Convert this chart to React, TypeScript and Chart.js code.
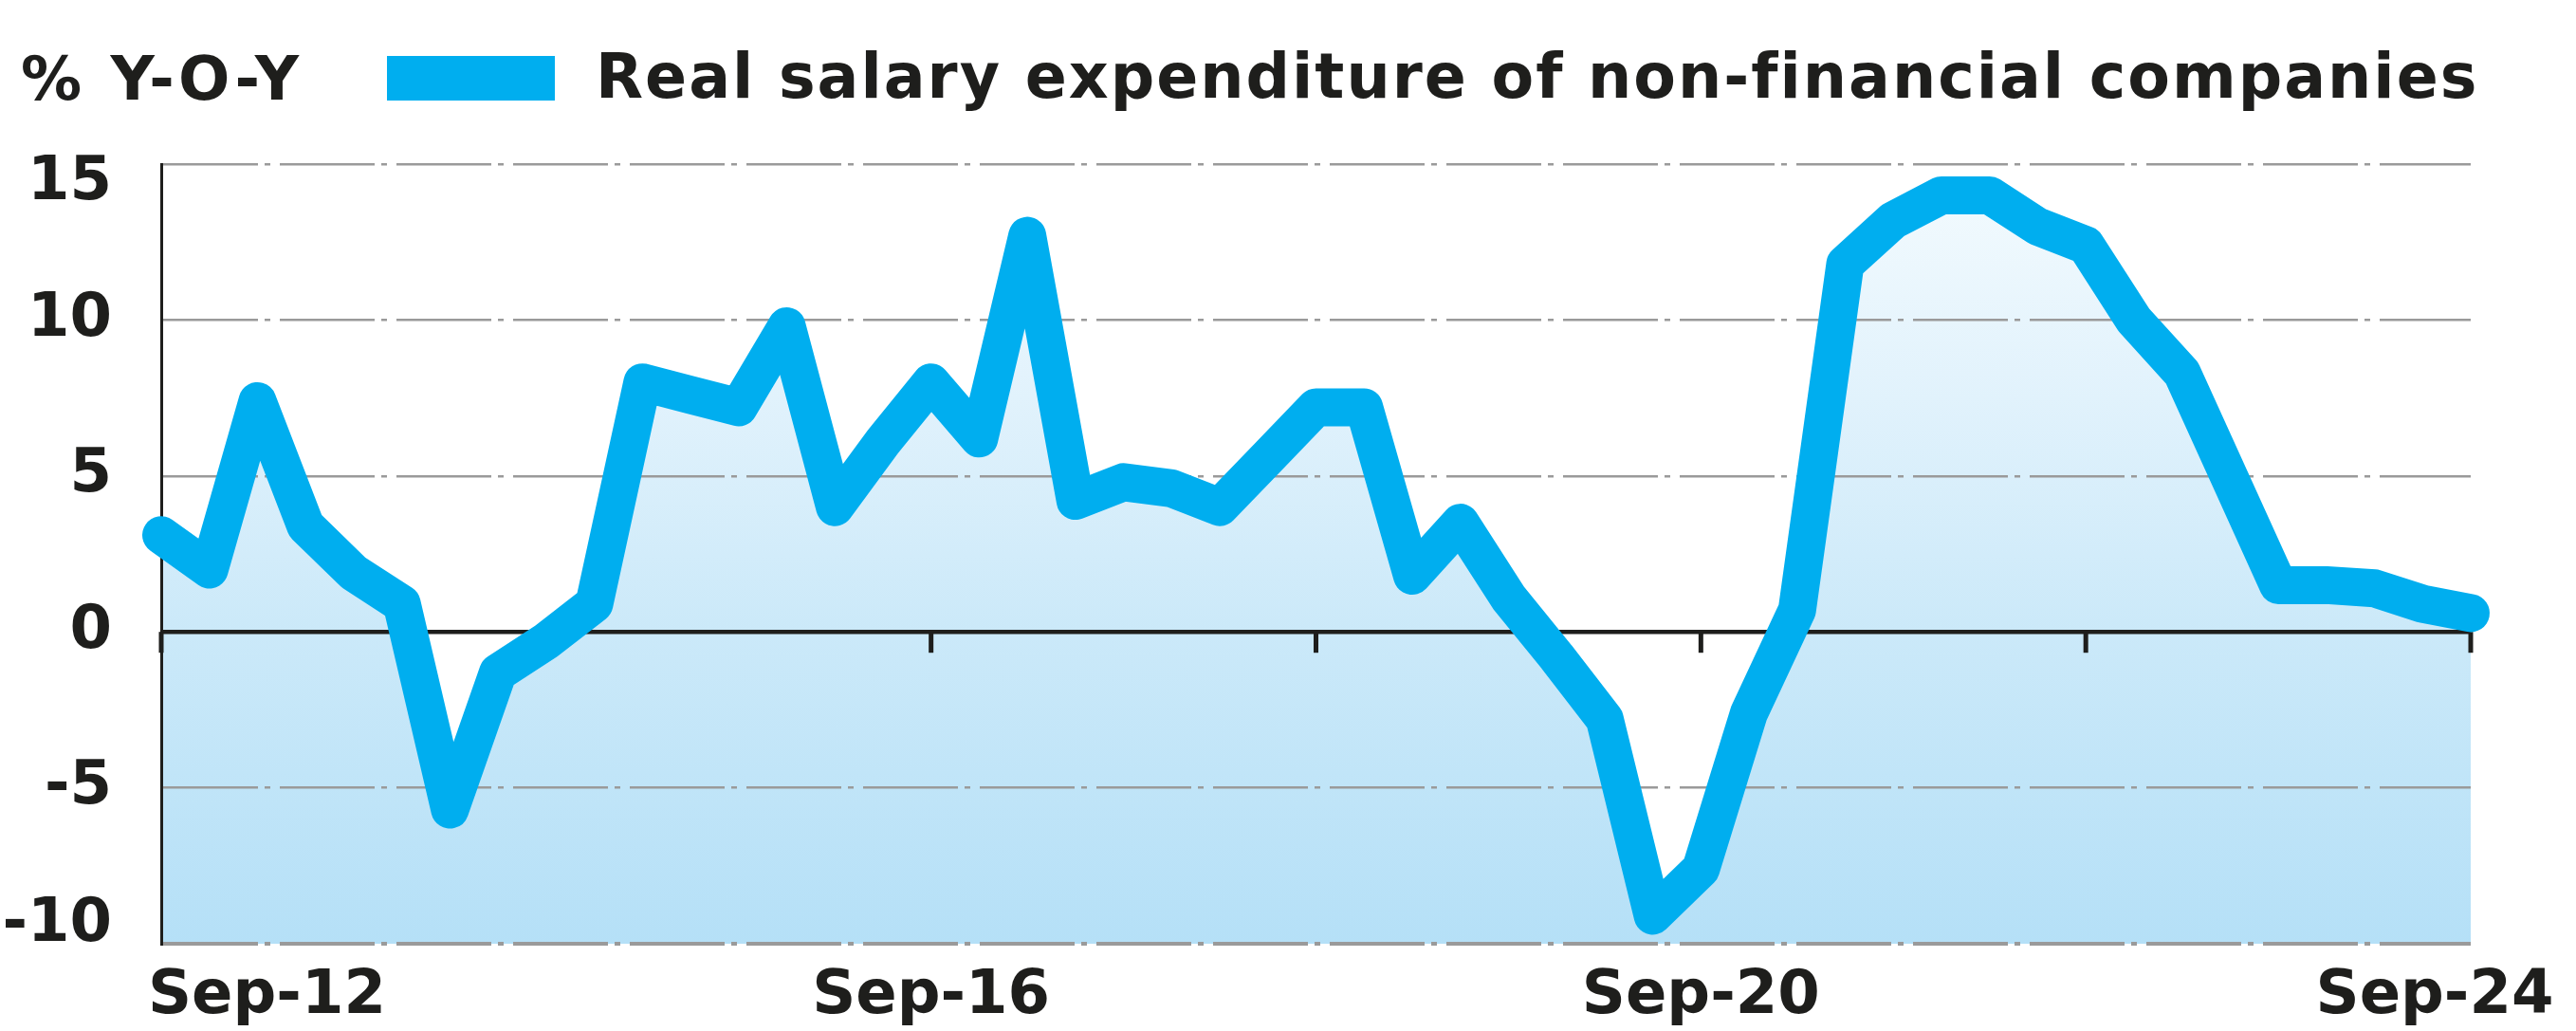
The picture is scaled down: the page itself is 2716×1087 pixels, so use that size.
import { useEffect, useRef } from 'react';
import { Chart, registerables } from 'chart.js';

Chart.register(...registerables);

// ---- data ----
const categories = [
  'Sep-12', 'Dec-12', 'Mar-13', 'Jun-13', 'Sep-13', 'Dec-13', 'Mar-14', 'Jun-14',
  'Sep-14', 'Dec-14', 'Mar-15', 'Jun-15', 'Sep-15', 'Dec-15', 'Mar-16', 'Jun-16',
  'Sep-16', 'Dec-16', 'Mar-17', 'Jun-17', 'Sep-17', 'Dec-17', 'Mar-18', 'Jun-18',
  'Sep-18', 'Dec-18', 'Mar-19', 'Jun-19', 'Sep-19', 'Dec-19', 'Mar-20', 'Jun-20',
  'Sep-20', 'Dec-20', 'Mar-21', 'Jun-21', 'Sep-21', 'Dec-21', 'Mar-22', 'Jun-22',
  'Sep-22', 'Dec-22', 'Mar-23', 'Jun-23', 'Sep-23', 'Dec-23', 'Mar-24', 'Jun-24',
  'Sep-24',
];

const realSalaryGrowth = [
  3.1, 2.0, 7.4, 3.4, 1.9, 0.9, -5.7, -1.3,
  -0.3, 0.9, 8.0, 7.6, 7.2, 9.8, 4.0, 6.1,
  8.0, 6.2, 12.7, 4.2, 4.8, 4.6, 4.0, 5.6,
  7.2, 7.2, 1.8, 3.5, 1.1, -0.8, -2.8, -9.1,
  -7.6, -2.6, 0.7, 11.8, 13.2, 14.0, 14.0, 13.0,
  12.4, 10.0, 8.3, 4.9, 1.5, 1.5, 1.4, 0.9,
  0.6,
];

const yTickValues = [-10, -5, 0, 5, 10, 15];
const xLabelledTicks = ['Sep-12', 'Sep-16', 'Sep-20', 'Sep-24'];
const xTickMarks = ['Sep-12', 'Sep-14', 'Sep-16', 'Sep-18', 'Sep-20', 'Sep-22', 'Sep-24'];
const unitLabel = '% Y-O-Y';
const seriesLabel = 'Real salary expenditure of non-financial companies';

// ---- styles ----
const FONT = '"DejaVu Sans", "Liberation Sans", sans-serif';
const INK = '#1e1e1c';
const BLUE = '#00aeef';
const GRID = '#9a9a9a';

const decorPlugin = {
  id: 'decor',
  beforeDatasetsDraw(chart: any) {
    const { ctx, scales } = chart;
    const x = scales.x;
    const y = scales.y;
    const y0 = y.getPixelForValue(0);
    ctx.save();
    ctx.strokeStyle = INK;
    ctx.lineWidth = 5;
    xTickMarks.forEach((lbl) => {
      const idx = categories.indexOf(lbl);
      if (idx < 0) return;
      const px = x.getPixelForValue(idx);
      ctx.beginPath();
      ctx.moveTo(px, y0);
      ctx.lineTo(px, y0 + 22);
      ctx.stroke();
    });
    ctx.restore();
  },
  afterDraw(chart: any) {
    const { ctx, scales, chartArea } = chart;
    const x = scales.x;
    ctx.save();
    ctx.textBaseline = 'alphabetic';
    ctx.textAlign = 'left';
    // header: unit + legend
    ctx.fillStyle = INK;
    ctx.font = `bold 64px ${FONT}`;
    (ctx as any).letterSpacing = '4px';
    ctx.fillText(unitLabel, 22, 105);
    ctx.fillStyle = chart.data.datasets[0].borderColor;
    ctx.fillRect(408, 59, 177, 47);
    ctx.fillStyle = INK;
    ctx.font = `bold 65px ${FONT}`;
    (ctx as any).letterSpacing = '2px';
    ctx.fillText(chart.data.datasets[0].label, 628, 103);
    (ctx as any).letterSpacing = '0px';
    // x-axis labels
    ctx.font = `bold 64px ${FONT}`;
    const baseY = chartArea.bottom + 73;
    const last = xLabelledTicks.length - 1;
    xLabelledTicks.forEach((lbl, k) => {
      const idx = categories.indexOf(lbl);
      if (idx < 0) return;
      const px = x.getPixelForValue(idx);
      if (k === 0) {
        ctx.textAlign = 'left';
        ctx.fillText(lbl, px - 14, baseY);
      } else if (k === last) {
        ctx.textAlign = 'center';
        ctx.fillText(lbl, px - 38, baseY);
      } else {
        ctx.textAlign = 'center';
        ctx.fillText(lbl, px, baseY);
      }
    });
    ctx.restore();
  },
};

export default function App() {
  const canvasRef = useRef<HTMLCanvasElement | null>(null);

  useEffect(() => {
    document.body.style.margin = '0';
    const canvas = canvasRef.current;
    if (!canvas) return;
    const yMin = Math.min(...yTickValues);
    const yMax = Math.max(...yTickValues);
    const isEdge = (c: any) => c.tick && (c.tick.value === yMax || c.tick.value === yMin);

    const chart = new Chart(canvas, {
      type: 'line',
      data: {
        labels: categories,
        datasets: [
          {
            label: seriesLabel,
            data: realSalaryGrowth,
            borderColor: BLUE,
            borderWidth: 40,
            borderCapStyle: 'round',
            borderJoinStyle: 'round',
            pointRadius: 0,
            pointHoverRadius: 0,
            tension: 0,
            fill: 'start',
            clip: false,
            backgroundColor: (c: any) => {
              const a = c.chart.chartArea;
              if (!a) return '#c8e8f9';
              const g = c.chart.ctx.createLinearGradient(0, a.top, 0, a.bottom);
              g.addColorStop(0, '#f4fbfe');
              g.addColorStop(0.3, '#e1f2fc');
              g.addColorStop(0.6, '#cbe9f9');
              g.addColorStop(1, '#b5e0f7');
              return g;
            },
          } as any,
        ],
      },
      options: {
        responsive: false,
        animation: false,
        devicePixelRatio: 1,
        layout: { padding: { top: 173, right: 111, bottom: 0, left: 0 } },
        plugins: {
          legend: { display: false },
          tooltip: { enabled: false },
          title: { display: false },
          filler: { drawTime: 'beforeDraw' },
        },
        scales: {
          x: {
            type: 'category',
            grid: { display: false },
            border: { display: false },
            ticks: { display: false },
            afterFit: (s: any) => {
              s.height = 87;
            },
          },
          y: {
            min: yMin,
            max: yMax,
            ticks: {
              stepSize: 5,
              padding: 52,
              color: INK,
              font: (c: any) => ({
                family: FONT,
                size: 64,
                weight: 'bold',
                lineHeight: isEdge(c) ? '40px' : 1.2,
              }),
              callback: (v: any) => {
                if (v === yMax) return ['', String(v)];
                if (v === yMin) return [String(v), ''];
                return String(v);
              },
            },
            grid: {
              drawTicks: false,
              color: (c: any) => (c.tick && c.tick.value === 0 ? INK : GRID),
              lineWidth: (c: any) =>
                c.tick && c.tick.value === 0 ? 4.5 : c.tick && c.tick.value === yMin ? 4 : 2.5,
            },
            border: {
              display: true,
              color: INK,
              width: 3,
              dash: (c: any) => (!c.tick || c.tick.value === 0 ? [] : [100, 7, 6, 10]),
            },
            afterFit: (s: any) => {
              s.width = 170;
            },
          },
        },
      } as any,
      plugins: [decorPlugin],
    });

    return () => chart.destroy();
  }, []);

  return (
    <div style={{ width: 2716, height: 1087, background: '#ffffff' }}>
      <canvas ref={canvasRef} width={2716} height={1087} style={{ display: 'block' }} />
    </div>
  );
}
